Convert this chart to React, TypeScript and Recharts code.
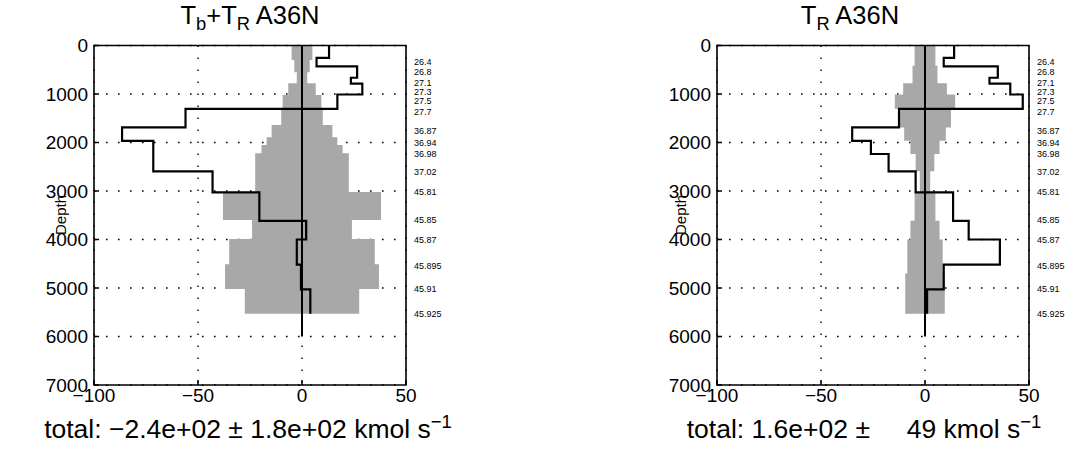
import React from "react";
import { ComposedChart, Line, Area, XAxis, YAxis, CartesianGrid, ReferenceArea } from "recharts";

const FONT = '"Liberation Sans", Arial, Helvetica, sans-serif';

// layer interfaces (m), shared by both panels
const layerDepths = [0, 255, 430, 665, 787, 1010, 1305, 1690, 1965, 2237, 2595, 3030, 3615, 4000, 4520, 5027, 5530];
// Tb+TR per layer
const totalLayerValues = [13, 7, 26.5, 23.5, 29, 17, -56, -86.5, -71.5, -71.5, -43, -20.5, 2, -2.5, -0.5, 4];
// TR per layer
const refLayerValues = [14, 9, 35, 31, 41, 47, -12.5, -35, -26, -17.5, -4.5, 13.5, 21, 36, 9, 1];

// uncertainty envelopes (half widths, drawn symmetric about zero)
const totalErrDepths = [0, 300, 550, 780, 1020, 1290, 1640, 1890, 2050, 2220, 3020, 3600, 3990, 4510, 5020, 5530];
const totalErrHalf = [5, 3.7, 2.5, 6.6, 9.3, 10, 14.6, 17, 19.5, 22.5, 38, 24, 35, 37, 27.5];
const refErrDepths = [0, 420, 780, 1010, 1305, 1690, 1965, 2237, 2595, 3030, 3615, 4000, 4700, 5530];
const refErrHalf = [5, 6, 10.5, 14.5, 12.5, 10, 7, 4.5, 2.5, 5, 7, 8.5, 9.5];

const zeroLineDepths = [0, 6000];

// neutral density labels along the right edge
const rhoLabels = ["26.4", "26.8", "27.1", "27.3", "27.5", "27.7", "36.87", "36.94", "36.98", "37.02", "45.81", "45.85", "45.87", "45.895", "45.91", "45.925"];
const rhoLabelDepths = [330, 540, 760, 945, 1130, 1371, 1763, 2010, 2237, 2608, 3021, 3598, 4010, 4546, 5021, 5536];

const xTicks = [-100, -50, 0, 50];
const depthTicks = [0, 1000, 2000, 3000, 4000, 5000, 6000, 7000];

function steps(depths: number[], vals: number[]) {
  const out: { depth: number; v: number }[] = [];
  vals.forEach((v, i) => {
    out.push({ depth: depths[i], v });
    out.push({ depth: depths[i + 1], v });
  });
  return out;
}

function band(depths: number[], half: number[]) {
  const out: { depth: number; r: [number, number] }[] = [];
  half.forEach((h, i) => {
    out.push({ depth: depths[i], r: [-h, h] });
    out.push({ depth: depths[i + 1], r: [-h, h] });
  });
  return out;
}

const fmtX = (v: number) => (v < 0 ? "\u2212" + Math.abs(v) : String(v));

function Panel({ values, errDepths, errHalf }: { values: number[]; errDepths: number[]; errHalf: number[] }) {
  const stepData = steps(layerDepths, values);
  const bandData = band(errDepths, errHalf);
  const zeroData = zeroLineDepths.map((d) => ({ depth: d, v: 0 }));
  // invisible anchor so the density axis has data of its own
  const rhoData = rhoLabelDepths.map((d) => ({ depth: d, v: 50 }));
  const tick = { fill: "#000", fontSize: 19, fontFamily: FONT };
  return (
    <ComposedChart width={444} height={449} layout="vertical" margin={{ top: 45.5, right: 0, bottom: 34, left: 38 }}>
      <CartesianGrid stroke="#000" strokeDasharray="1.6 10.4" strokeWidth={1.4} />
      <XAxis
        type="number" domain={[-100, 50]} ticks={xTicks} height={30} allowDataOverflow
        tickFormatter={fmtX} tick={tick} tickSize={-5} tickMargin={9} axisLine={false}
        tickLine={{ stroke: "#000", strokeWidth: 1.5 }}
      />
      <YAxis
        type="number" dataKey="depth" domain={[0, 7000]} ticks={depthTicks} width={56} allowDataOverflow
        tick={tick} tickSize={-5} tickMargin={11} axisLine={false} interval={0}
        tickLine={{ stroke: "#000", strokeWidth: 1.5 }}
      />
      <YAxis
        yAxisId="rho" orientation="right" type="number" dataKey="depth" domain={[0, 7000]} width={38}
        ticks={rhoLabelDepths} interval={0} tickLine={false} axisLine={false} tickMargin={2}
        tickFormatter={(d: number) => rhoLabels[rhoLabelDepths.indexOf(d)] ?? ""}
        tick={{ fill: "#000", fontSize: 9, fontFamily: FONT }} allowDataOverflow
      />
      <Area data={bandData} dataKey="r" type="linear" fill="#a8a8a8" fillOpacity={1} stroke="none" isAnimationActive={false} />
      <Line data={zeroData} dataKey="v" type="linear" stroke="#000" strokeWidth={2} dot={false} isAnimationActive={false} />
      <Line data={stepData} dataKey="v" type="linear" stroke="#000" strokeWidth={2.2} dot={false} isAnimationActive={false} />
      <Line yAxisId="rho" data={rhoData} dataKey="v" stroke="none" dot={false} activeDot={false} isAnimationActive={false} />
      <ReferenceArea x1={-100} x2={50} y1={0} y2={7000} fill="none" stroke="#000" strokeWidth={1.6} />
    </ComposedChart>
  );
}

const titleStyle: React.CSSProperties = {
  position: "absolute", top: 1, width: 400, textAlign: "center", fontSize: 25.5, lineHeight: "28px", whiteSpace: "pre",
};
const totalStyle: React.CSSProperties = {
  position: "absolute", top: 415, width: 520, textAlign: "center", fontSize: 26.5, lineHeight: "28px", whiteSpace: "pre",
};
const depthStyle: React.CSSProperties = {
  position: "absolute", top: 206, width: 60, textAlign: "center", fontSize: 15, lineHeight: "18px",
  transform: "rotate(-90deg)",
};
const sub: React.CSSProperties = { fontSize: "0.72em", position: "relative", top: "0.35em" };
const sup: React.CSSProperties = { fontSize: "0.7em", position: "relative", top: "-0.55em" };

export default function App() {
  return (
    <div style={{ position: "absolute", left: 0, top: 0, width: 1067, height: 449, overflow: "hidden", background: "#fff", fontFamily: FONT, color: "#000" }}>
      <div style={{ position: "absolute", left: 0, top: 0 }}>
        <Panel values={totalLayerValues} errDepths={totalErrDepths} errHalf={totalErrHalf} />
      </div>
      <div style={{ position: "absolute", left: 623, top: 0 }}>
        <Panel values={refLayerValues} errDepths={refErrDepths} errHalf={refErrHalf} />
      </div>
      <div style={{ ...titleStyle, left: 50 }}>
        T<span style={sub}>b</span>+T<span style={sub}>R</span> A36N
      </div>
      <div style={{ ...titleStyle, left: 650 }}>
        T<span style={sub}>R</span> A36N
      </div>
      <div style={{ ...depthStyle, left: 31 }}>Depth</div>
      <div style={{ ...depthStyle, left: 651 }}>Depth</div>
      <div style={{ ...totalStyle, left: -12 }}>
        total: {"\u2212"}2.4e+02 ± 1.8e+02 kmol s<span style={sup}>{"\u2212"}1</span>
      </div>
      <div style={{ ...totalStyle, left: 604 }}>
        {"total: 1.6e+02 ±     49 kmol s"}<span style={sup}>{"\u2212"}1</span>
      </div>
    </div>
  );
}
